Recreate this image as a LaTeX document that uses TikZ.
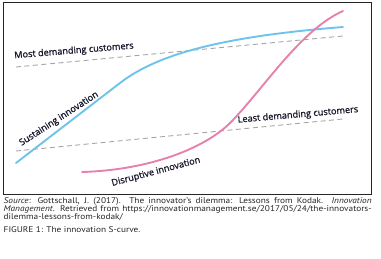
\documentclass[tikz,border=0pt]{standalone}
\usepackage{fontspec}
\setmainfont{PT Sans}[FakeStretch=1.12]
\newfontfamily\lblfont[FakeBold=1.2]{Open Sans}
\newlength\capw
\newlength\capww
\newcommand\capone{\textit{Source}: Gottschall, J. (2017). The innovator’s dilemma: Lessons from Kodak. \textit{Innovation}}
\newcommand\captwo{\textit{Management}. Retrieved from https://innovationmanagement.se/2017/05/24/the-innovators-}
\begin{document}
\settowidth\capw{\fontsize{10}{10}\selectfont\capone}
\settowidth\capww{\fontsize{10}{10}\selectfont\captwo}
\pgfmathsetmacro\capsize{min(10*358/\capw, 10*366/\capww)}
\begin{tikzpicture}[x=1bp,y=-1bp,
  lbl/.style={font=\lblfont\fontsize{9.2}{10}\selectfont, text=labelcol, inner sep=0pt},
  captext/.style={font=\fontsize{\capsize}{8}\selectfont, text=black!85, inner sep=0pt, anchor=base west},
  demand/.style={draw=dashgray, line width=0.9bp, dash pattern=on 5bp off 3.5bp},
  sust/.style={draw=bluecol, line width=1.9bp, line cap=round},
  disr/.style={draw=pinkcol, line width=1.9bp, line cap=round}]
\definecolor{bluecol}{RGB}{110,195,235}
\definecolor{pinkcol}{RGB}{232,128,172}
\definecolor{dashgray}{RGB}{165,165,165}
\definecolor{labelcol}{RGB}{25,25,45}
\useasboundingbox (0,0) rectangle (381,259);
\draw[line width=0.9bp, draw=black!85] (3.3,2.8) rectangle (371.7,194.3);
% dashed customer lines
\coordinate (m1) at (16,67); \coordinate (m2) at (343,36);
\coordinate (l1) at (16,151); \coordinate (l2) at (343,119);
\draw[demand] (m1) -- (m2);
\draw[demand] (l1) -- (l2);
% sustaining (blue) curve
\coordinate (b0) at (16,163); \coordinate (b1) at (120,83); \coordinate (b2) at (343,27);
\draw[sust] (b0) -- (b1) .. controls (160,52) and (230,36) .. (b2);
% disruptive (pink) curve
\coordinate (p0) at (82,172); \coordinate (p1) at (230,123); \coordinate (p2) at (343,11);
\draw[disr] (p0) .. controls (150,170) and (205,148) .. (p1) .. controls (262,91) and (300,30) .. (p2);
% labels
\node[lbl, rotate=4.7] (most) at (74,51) {Most demanding customers};
\node[lbl, rotate=5] (least) at (298,115) {Least demanding customers};
\node[lbl, rotate=33] (sustlbl) at (59,119) {Sustaining innovation};
\node[lbl, rotate=15] (disrlbl) at (156,172) {Disruptive innovation};
% caption
\node[captext] (c1) at (3.5,203) {\makebox[368bp][s]{\capone}};
\node[captext] (c2) at (3.5,211) {\makebox[368bp][s]{\captwo}};
\node[captext] (c3) at (3.5,219) {dilemma-lessons-from-kodak/};
\node[captext] (c4) at (3.5,232) {FIGURE 1: The innovation S-curve.};
\end{tikzpicture}
\end{document}
